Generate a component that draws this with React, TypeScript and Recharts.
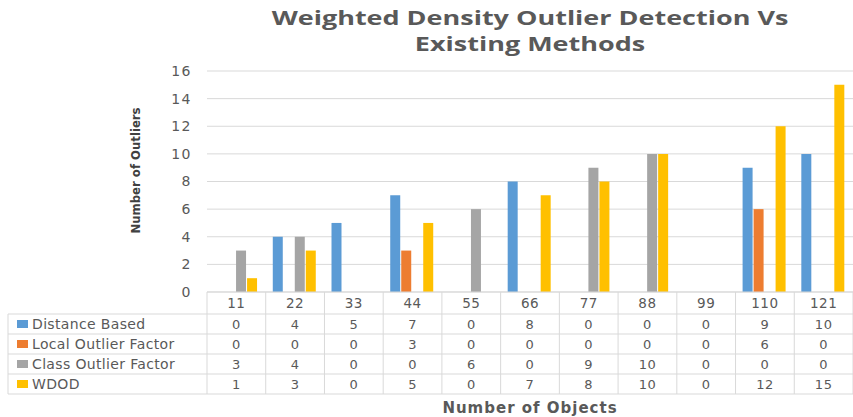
import { BarChart, Bar, XAxis, YAxis, CartesianGrid } from "recharts";

const objects = ["11", "22", "33", "44", "55", "66", "77", "88", "99", "110", "121"];
const distanceBased = [0, 4, 5, 7, 0, 8, 0, 0, 0, 9, 10];
const localOutlierFactor = [0, 0, 0, 3, 0, 0, 0, 0, 0, 6, 0];
const classOutlierFactor = [3, 4, 0, 0, 6, 0, 9, 10, 0, 0, 0];
const wdod = [1, 3, 0, 5, 0, 7, 8, 10, 0, 12, 15];
const yTicks = [0, 2, 4, 6, 8, 10, 12, 14, 16];

const series = [
    {key: "distance", name: "Distance Based", values: distanceBased, color: "#5b9bd5"},
    {key: "lof", name: "Local Outlier Factor", values: localOutlierFactor, color: "#ed7d31"},
    {key: "cof", name: "Class Outlier Factor", values: classOutlierFactor, color: "#a5a5a5"},
    {key: "wdod", name: "WDOD", values: wdod, color: "#ffc000"},
];

const data = objects.map((o, i) => {
    const row: any = {obj: o};
    series.forEach(s => row[s.key] = s.values[i]);
    return row;
});

const W = 853;
const H = 417;
const Y_W = 207;
const MARGIN = {top: 71, right: 0, left: 0, bottom: 0};
const PLOT_W = W - Y_W - MARGIN.left - MARGIN.right;
const PLOT_CX = Y_W + PLOT_W / 2;
const BAND = PLOT_W / objects.length;
const HEAD = 22;
const ROW = 20;
const TABLE_LEFT = 8;
const GRID = "#d9d9d9";
const TEXT = "#595959";
const TABLE_FONT = "'DejaVu Sans', Verdana, sans-serif";

// draws one column of the data table under the axis, plus row labels for the first one
function TableTick(props: any) {
    const {x, y, index} = props;
    const left = x - BAND / 2;
    const right = x + BAND / 2;
    const rowTop = (r: number) => y + HEAD + ROW * r;
    const bottom = rowTop(series.length);
    return <g>
        {index === 0 && <g>
            <line x1={left} y1={y} x2={left} y2={bottom} stroke={GRID}/>
            <line x1={TABLE_LEFT} y1={rowTop(0)} x2={TABLE_LEFT} y2={bottom} stroke={GRID}/>
            {series.map((s, r) => <g key={s.key}>
                <line x1={TABLE_LEFT} y1={rowTop(r)} x2={left + PLOT_W} y2={rowTop(r)} stroke={GRID}/>
                <rect x={TABLE_LEFT + 9} y={rowTop(r) + 6} width={11} height={8} fill={s.color}/>
                <text x={TABLE_LEFT + 24} y={rowTop(r) + 15} fontSize={14} letterSpacing={0.35} fill={TEXT}
                      fontFamily={TABLE_FONT}>{s.name}</text>
            </g>)}
            <line x1={TABLE_LEFT} y1={bottom} x2={left + PLOT_W} y2={bottom} stroke={GRID}/>
        </g>}
        <line x1={right} y1={y} x2={right} y2={bottom} stroke={GRID}/>
        <text x={x} y={y + 16} textAnchor="middle" fontSize={13.5} letterSpacing={0.5} fill={TEXT}
              fontFamily={TABLE_FONT}>{objects[index]}</text>
        {series.map((s, r) => <text key={s.key} x={x} y={rowTop(r) + 15} textAnchor="middle" letterSpacing={0.5}
                                    fontSize={13} fill={TEXT} fontFamily={TABLE_FONT}>{s.values[index]}</text>)}
    </g>
}

function YLabel(props: any) {
    const {viewBox} = props;
    const cx = viewBox.x + 135;
    const cy = viewBox.y + viewBox.height / 2 - 11;
    return <text x={cx} y={cy} transform={`rotate(-90 ${cx} ${cy})`} textAnchor="middle" dominantBaseline="central"
                 fontSize={13} fontWeight="bold" fill="#404040"
                 fontFamily="'DejaVu Sans Condensed', 'Liberation Sans Narrow', sans-serif">Number of Outliers</text>
}

export default function App() {
    return <div style={{position: "absolute", left: 0, top: 0, width: W, height: H, background: "#fff", overflow: "hidden"}}>
        <div style={{
            position: "absolute", left: PLOT_CX - 400, width: 800, top: 5, textAlign: "center",
            transform: "scaleX(1.42)", transformOrigin: "center",
            fontFamily: "'Open Sans', sans-serif", fontWeight: 700, fontSize: 19, lineHeight: "26px", color: TEXT
        }}>
            Weighted Density Outlier Detection Vs<br/>Existing Methods
        </div>
        <BarChart width={W} height={H} data={data} margin={MARGIN} barCategoryGap="12%" barGap={1}>
            <CartesianGrid vertical={false} stroke={GRID}/>
            <XAxis dataKey="obj" height={H - 292} interval={0} tickSize={0} tickMargin={0} tickLine={false}
                   axisLine={{stroke: GRID}} tick={(p: any) => <TableTick {...p}/>}
                   label={{
                       value: "Number of Objects", position: "insideBottom", offset: 4,
                       style: {fontFamily: TABLE_FONT, fontSize: 15, letterSpacing: 1, fontWeight: "bold", fill: TEXT}
                   }}/>
            <YAxis width={Y_W} domain={[0, 16]} ticks={yTicks} interval={0} tickLine={false} axisLine={false}
                   tickMargin={9} tick={{fontSize: 14, letterSpacing: 1.5, fill: TEXT, fontFamily: TABLE_FONT}}
                   label={{content: (p: any) => <YLabel {...p}/>}}/>
            {series.map(s => <Bar key={s.key} dataKey={s.key} name={s.name} fill={s.color}
                                  isAnimationActive={false}/>)}
        </BarChart>
    </div>
}
